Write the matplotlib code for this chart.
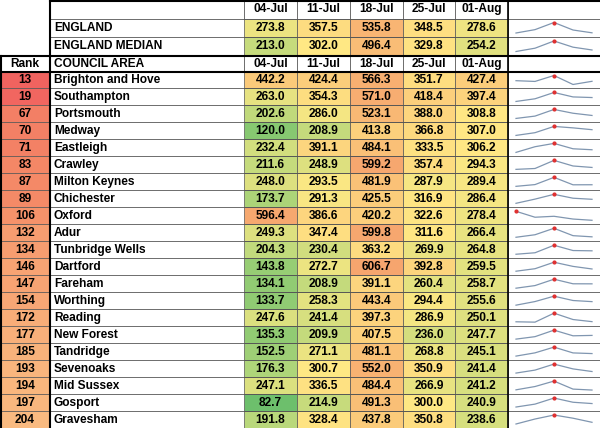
import matplotlib
matplotlib.use("Agg")
import matplotlib.pyplot as plt
from matplotlib.colors import LinearSegmentedColormap, Normalize
from matplotlib.patches import Rectangle

dates = ["04-Jul", "11-Jul", "18-Jul", "25-Jul", "01-Aug"]
england = [273.8, 357.5, 535.8, 348.5, 278.6]
england_median = [213.0, 302.0, 496.4, 329.8, 254.2]
ranks = [13, 19, 67, 70, 71, 83, 87, 89, 106, 132, 134, 146, 147, 154, 172,
         177, 185, 193, 194, 197, 204]
areas = ["Brighton and Hove", "Southampton", "Portsmouth", "Medway", "Eastleigh",
         "Crawley", "Milton Keynes", "Chichester", "Oxford", "Adur",
         "Tunbridge Wells", "Dartford", "Fareham", "Worthing", "Reading",
         "New Forest", "Tandridge", "Sevenoaks", "Mid Sussex", "Gosport", "Gravesham"]
rates = [
    [442.2, 424.4, 566.3, 351.7, 427.4],
    [263.0, 354.3, 571.0, 418.4, 397.4],
    [202.6, 286.0, 523.1, 388.0, 308.8],
    [120.0, 208.9, 413.8, 366.8, 307.0],
    [232.4, 391.1, 484.1, 333.5, 306.2],
    [211.6, 248.9, 599.2, 357.4, 294.3],
    [248.0, 293.5, 481.9, 287.9, 289.4],
    [173.7, 291.3, 425.5, 316.9, 286.4],
    [596.4, 386.6, 420.2, 322.6, 278.4],
    [249.3, 347.4, 599.8, 311.6, 266.4],
    [204.3, 230.4, 363.2, 269.9, 264.8],
    [143.8, 272.7, 606.7, 392.8, 259.5],
    [134.1, 208.9, 391.1, 260.4, 258.7],
    [133.7, 258.3, 443.4, 294.4, 255.6],
    [247.6, 241.4, 397.3, 286.9, 250.1],
    [135.3, 209.9, 407.5, 236.0, 247.7],
    [152.5, 271.1, 481.1, 268.8, 245.1],
    [176.3, 300.7, 552.0, 350.9, 241.4],
    [247.1, 336.5, 484.4, 266.9, 241.2],
    [82.7, 214.9, 491.3, 300.0, 240.9],
    [191.8, 328.4, 437.8, 350.8, 238.6],
]

val_cmap = LinearSegmentedColormap.from_list(
    "v", [(0.0, "#6cbf6c"), (0.2, "#b5d77a"), (0.42, "#ffe884"), (1.0, "#f6a56e")])
val_norm = Normalize(80, 610)
rank_cmap = LinearSegmentedColormap.from_list(
    "r", [(0.0, "#f0615f"), (0.35, "#f58f68"), (1.0, "#fbd08c")])
rank_norm = Normalize(10, 260)

fig = plt.figure(figsize=(6, 4.28), dpi=100)
ax = fig.add_axes([0, 0, 1, 1])
ax.set_xlim(0, 600)
ax.set_ylim(428, 0)
ax.axis("off")

col_x = [244, 297, 350, 403, 455, 508]
spark_x = (508, 600)
name_x = 50
font = dict(family="Liberation Sans", fontsize=8.6, fontweight="bold")


def sparkline(y0, h, vals):
    x0, x1 = spark_x[0] + 8, spark_x[1] - 8
    lo, hi = min(vals), max(vals)
    xs = [x0 + (x1 - x0) * i / (len(vals) - 1) for i in range(len(vals))]
    ys = [y0 + h - 4 - (h - 8) * (v - lo) / (hi - lo) for v in vals]
    ax.plot(xs, ys, color="#8096b0", lw=0.9)
    k = vals.index(hi)
    ax.plot(xs[k], ys[k], "o", color="#e03030", ms=2)


def value_cells(y0, h, vals):
    for i, v in enumerate(vals):
        ax.add_patch(Rectangle((col_x[i], y0), col_x[i + 1] - col_x[i], h,
                               facecolor=val_cmap(val_norm(v)), edgecolor="#555555", lw=0.5))
        ax.text((col_x[i] + col_x[i + 1]) / 2, y0 + h / 2, f"{v:.1f}",
                ha="center", va="center", **font)


def header(y0, h, first=None, second=""):
    if first is not None:
        ax.text(25, y0 + h / 2, first, ha="center", va="center", **font)
    ax.text(name_x + 4, y0 + h / 2, second, ha="left", va="center", **font)
    for i, d in enumerate(dates):
        ax.text((col_x[i] + col_x[i + 1]) / 2, y0 + h / 2, d, ha="center", va="center", **font)
    for x in col_x:
        ax.plot([x, x], [y0, y0 + h], color="#555555", lw=0.6)


# top block
h = 18.5
header(0, h)
ax.text(name_x + 4, h * 1.5, "ENGLAND", ha="left", va="center", **font)
value_cells(h, h, england)
sparkline(h, h, england)
ax.text(name_x + 4, h * 2.5, "ENGLAND MEDIAN", ha="left", va="center", **font)
value_cells(2 * h, h, england_median)
sparkline(2 * h, h, england_median)
for y in [h, 2 * h]:
    ax.plot([name_x, 600], [y, y], color="#555555", lw=0.6)
ax.plot([name_x, name_x], [0, 3 * h], color="black", lw=1.5)
ax.plot([name_x, 600], [0.8, 0.8], color="black", lw=1.5)

# council header
y_h = 3 * h
hh = 16
header(y_h, hh, "Rank", "COUNCIL AREA")
ax.plot([0, 600], [y_h, y_h], color="black", lw=1.5)
ax.plot([0, 600], [y_h + hh, y_h + hh], color="black", lw=1.5)

y_start = y_h + hh
rh = (428 - y_start) / len(areas)
for r, (rank, name, vals) in enumerate(zip(ranks, areas, rates)):
    y0 = y_start + r * rh
    ax.add_patch(Rectangle((0, y0), name_x, rh, facecolor=rank_cmap(rank_norm(rank)),
                           edgecolor="#555555", lw=0.5))
    ax.text(25, y0 + rh / 2, str(rank), ha="center", va="center", **font)
    ax.text(name_x + 4, y0 + rh / 2, name, ha="left", va="center", **font)
    value_cells(y0, rh, vals)
    sparkline(y0, rh, vals)
    ax.plot([name_x, 600], [y0 + rh, y0 + rh], color="#555555", lw=0.6)

ax.plot([name_x, name_x], [y_h, 428], color="black", lw=1.5)
ax.plot([0.8, 0.8], [y_h, 428], color="black", lw=1.5)
ax.plot([spark_x[0], spark_x[0]], [0, 428], color="black", lw=1.2)

fig.savefig("out.png", dpi=100)
